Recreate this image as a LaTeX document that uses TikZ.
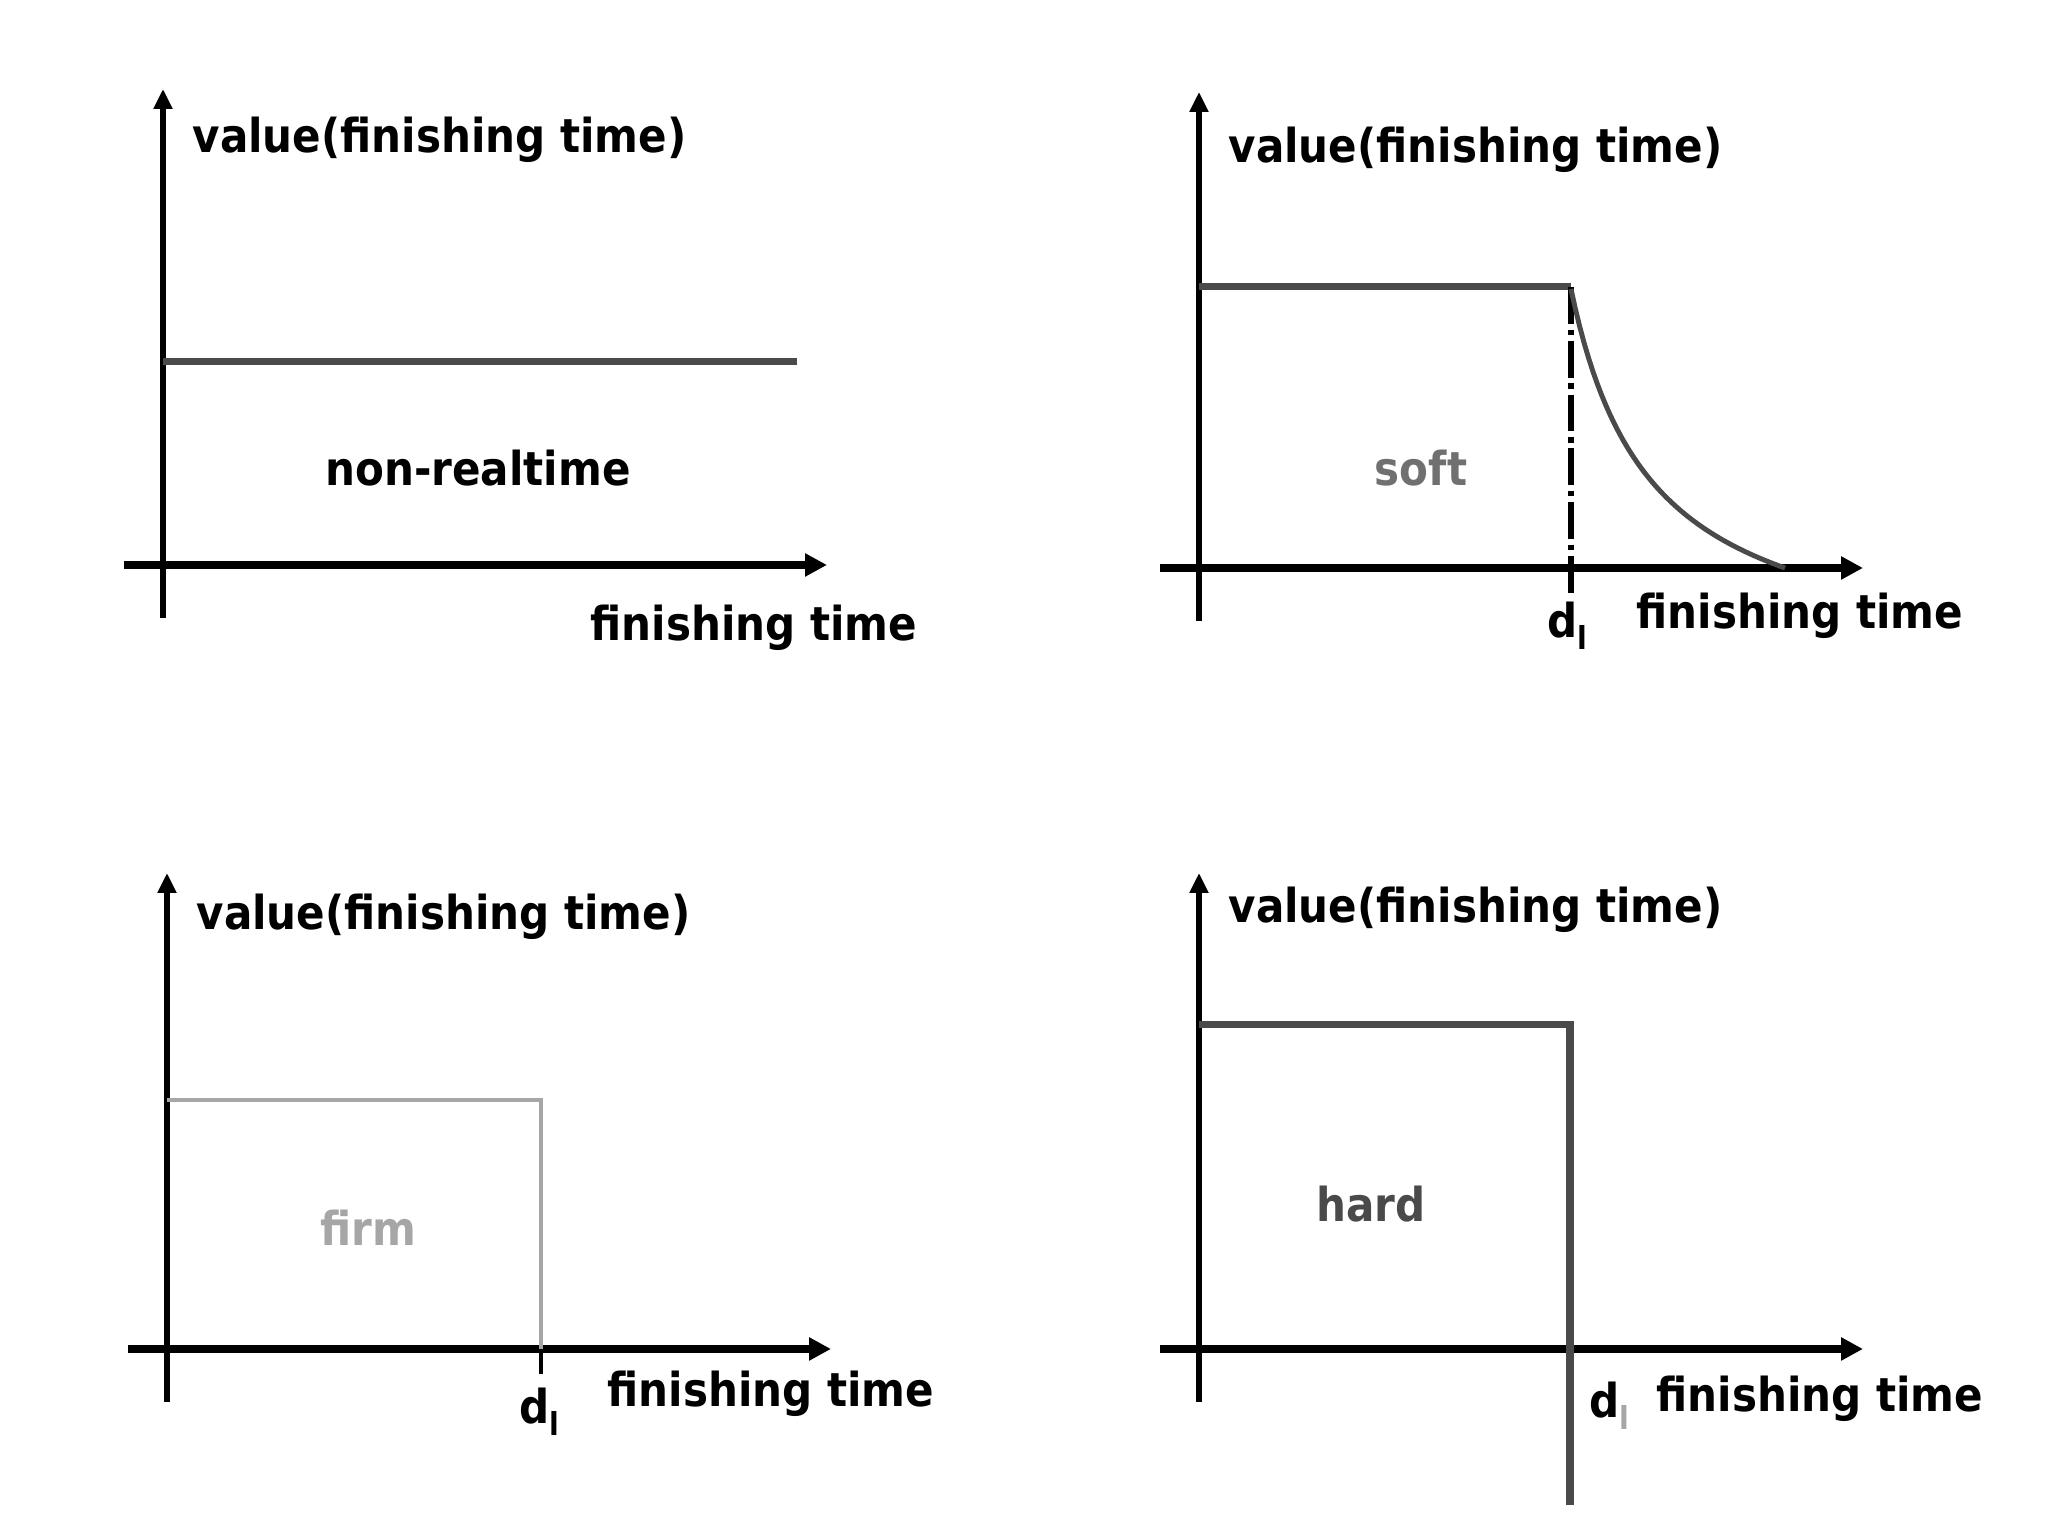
\documentclass[tikz,border=0pt]{standalone}
\usepackage{fontspec}
\setmainfont{DejaVu Sans Condensed}
\usetikzlibrary{arrows.meta}
\definecolor{darkline}{HTML}{4A4A4A}
\definecolor{softgray}{HTML}{707070}
\definecolor{firmgray}{HTML}{A6A6A6}
\tikzset{
  lbl/.style={font=\fontsize{13.3}{16}\selectfont\bfseries, inner sep=0pt},
  xaxis/.style={line width=2.2pt, -{Triangle[length=0.22cm,width=0.22cm]}},
  yaxis/.style={line width=1.6pt, -{Triangle[length=0.2cm,width=0.18cm]}},
  valline/.style={line width=2pt, darkline}
}
% axes of one panel, drawn at the local origin
\newcommand{\axes}[2]{
  \coordinate (#1o) at (0,0);
  \draw[yaxis] (0,-0.53) -- (0,4.76);
  \draw[xaxis] (-0.39,0) -- (6.64,0);
  \node[lbl, anchor=west] (#1val) at (0.29,#2) {value(finishing time)};
}
% deadline label d_l
\newcommand{\dl}[1][black]{d\raisebox{-0.45ex}{\fontsize{9}{9}\selectfont\color{#1}l}}

\begin{document}
\begin{tikzpicture}
  \useasboundingbox (0,0) rectangle (20.48,15.36);
  % non-realtime
  \begin{scope}[shift={(1.63,9.71)}]
    \axes{nr}{4.25}
    \draw[valline] (0,2.03) -- (6.34,2.03);
    \node[lbl] (nrtxt) at (3.15,0.97) {non-realtime};
    \node[lbl] (nrft) at (5.91,-0.63) {finishing time};
  \end{scope}
  % soft
  \begin{scope}[shift={(11.99,9.68)}]
    \axes{so}{4.18}
    \coordinate (sodl) at (3.72,2.81);
    \draw[valline] (0,2.81) -- (sodl);
    \draw[line width=1.7pt, dash pattern=on 10.5pt off 1.6pt on 1.6pt off 1.6pt]
      (sodl) -- (3.72,-0.25);
    \draw[line width=1.4pt, darkline] plot[domain=0:2.14, samples=50]
      ({3.72+\x},{306.63/(100*\x+80)-1.043});
    \node[lbl, softgray] (sotxt) at (2.22,1.00) {soft};
    \node[lbl] (sod) at (3.68,-0.58) {\dl};
    \node[lbl] (soft) at (6.01,-0.48) {finishing time};
  \end{scope}
  % firm
  \begin{scope}[shift={(1.67,1.87)}]
    \axes{fi}{4.32}
    \draw[line width=1.4pt, firmgray] (0,2.49) -- (3.74,2.49) -- (3.74,0);
    \draw[line width=1.4pt] (3.74,0) -- (3.74,-0.25);
    \node[lbl, firmgray] (fitxt) at (2.01,1.21) {firm};
    \node[lbl] (fid) at (3.72,-0.63) {\dl};
    \node[lbl] (fift) at (6.04,-0.45) {finishing time};
  \end{scope}
  % hard
  \begin{scope}[shift={(11.99,1.87)}]
    \axes{ha}{4.39}
    \draw[valline] (0,3.24) -- (3.71,3.24) -- (3.71,-1.56);
    \node[lbl, darkline] (hatxt) at (1.72,1.45) {hard};
    \node[lbl] (had) at (4.10,-0.57) {\dl[firmgray]};
    \node[lbl] (haft) at (6.21,-0.50) {finishing time};
  \end{scope}
\end{tikzpicture}
\end{document}
